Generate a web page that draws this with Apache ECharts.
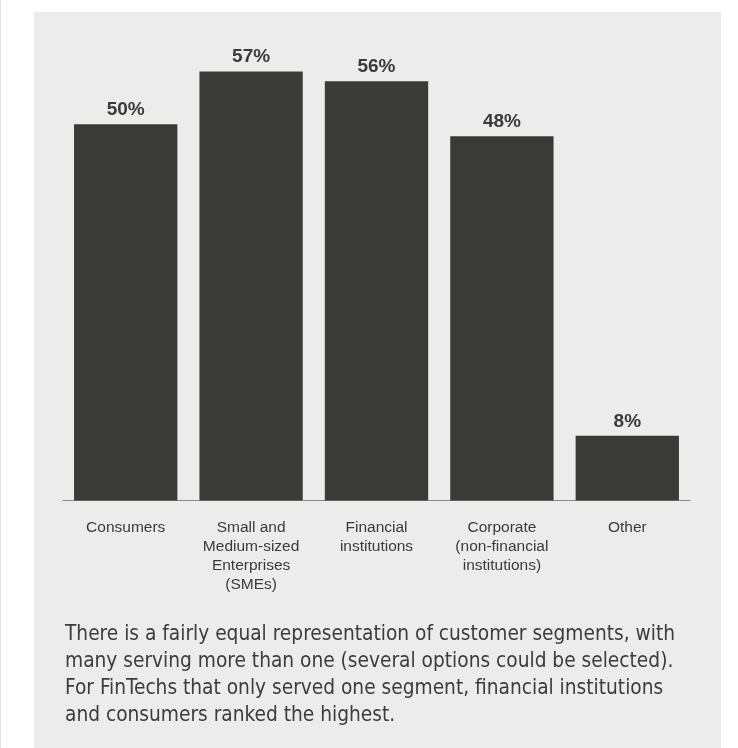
<!DOCTYPE html>
<html>
<head>
<meta charset="utf-8">
<script src="https://cdn.jsdelivr.net/npm/echarts@6/dist/echarts.min.js"></script>
<style>
html,body{margin:0;padding:0;background:#fff;}
#chart{width:738px;height:748px;}
</style>
</head>
<body>
<div id="chart"></div>
<script>
const categories = ["Consumers", "Small and\nMedium-sized\nEnterprises\n(SMEs)", "Financial\ninstitutions", "Corporate\n(non-financial\ninstitutions)", "Other"];
const values = [50, 57, 55.7, 48.4, 8.6];
const valueLabels = ["50%", "57%", "56%", "48%", "8%"];
const note = "There is a fairly equal representation of customer segments, with\nmany serving more than one (several options could be selected).\nFor FinTechs that only served one segment, financial institutions\nand consumers ranked the highest.";

const chart = echarts.init(document.getElementById('chart'), null, {renderer: 'canvas'});
chart.setOption({
  backgroundColor: '#ffffff',
  animation: false,
  graphic: [
    {type: 'rect', z: -10, shape: {x: 0, y: 0, width: 1, height: 748}, style: {fill: '#e2e2e2'}},
    {type: 'rect', z: -10, shape: {x: 34, y: 12, width: 687, height: 736}, style: {fill: '#ececec'}},
    {type: 'text', left: 65, top: 621, z: 10, style: {
      text: note, fill: '#3c3c3c', font: '20.7px "DejaVu Sans Condensed", sans-serif', lineHeight: 27
    }}
  ],
  grid: {left: 63, right: 48, top: 49, bottom: 247.5, containLabel: false},
  xAxis: {
    type: 'category',
    data: categories,
    axisLine: {show: true, lineStyle: {color: '#8a8a8a', width: 1}},
    axisTick: {show: false},
    axisLabel: {
      interval: 0, margin: 18, color: '#3a3a3a',
      fontFamily: 'Liberation Sans, Arial, sans-serif', fontSize: 15.5, lineHeight: 19, align: 'center'
    }
  },
  yAxis: {
    type: 'value', min: 0, max: 60,
    show: false, splitLine: {show: false}
  },
  series: [{
    type: 'bar',
    data: values,
    barCategoryGap: '17.6%',
    itemStyle: {color: '#3a3a39'},
    label: {
      show: true, position: 'top', distance: 5,
      formatter: p => valueLabels[p.dataIndex],
      color: '#3a3a3a', fontFamily: 'Liberation Sans, Arial, sans-serif', fontWeight: 'bold', fontSize: 19
    }
  }]
});
</script>
</body>
</html>
